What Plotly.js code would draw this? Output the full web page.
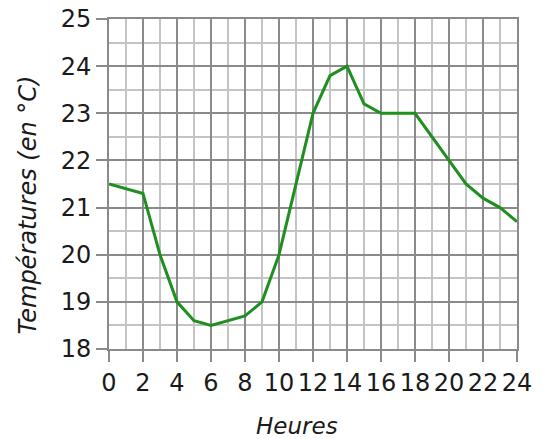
<!DOCTYPE html>
<html>
<head>
<meta charset="utf-8">
<script src="https://cdn.plot.ly/plotly-3.0.1.min.js"></script>
<style>html,body{margin:0;padding:0;background:#fff}</style>
</head>
<body>
<div id="chart" style="width:550px;height:439px"></div>
<script>
const hours = [0, 2, 3, 4, 5, 6, 8, 9, 10, 12, 13, 14, 15, 16, 18, 20, 21, 22, 23, 24];
const temps = [21.5, 21.3, 20.0, 19.0, 18.6, 18.5, 18.7, 19.0, 20.0, 23.0, 23.8, 24.0, 23.2, 23.0, 23.0, 22.0, 21.5, 21.2, 21.0, 20.7];
const xTickVals = [0, 2, 4, 6, 8, 10, 12, 14, 16, 18, 20, 22, 24];
const yTickVals = [18, 19, 20, 21, 22, 23, 24, 25];
const xTitle = 'Heures';
const yTitle = 'Températures (en °C)';

const major = '#8a8a8a';
const minor = '#c4c4c4';
const font = 'DejaVu Sans, sans-serif';
const textColor = '#1a1a1a';

Plotly.newPlot('chart', [{
  x: hours, y: temps, type: 'scatter', mode: 'lines',
  line: {color: '#1f8f1f', width: 3},
  hoverinfo: 'skip'
}], {
  width: 550, height: 439,
  margin: {l: 109, r: 33, t: 19, b: 90},
  paper_bgcolor: '#fff', plot_bgcolor: '#fff',
  showlegend: false,
  xaxis: {
    range: [0, 24], tickvals: xTickVals, ticktext: xTickVals.map(String),
    showgrid: true, gridcolor: major, gridwidth: 2,
    zeroline: false, showline: true, linecolor: major, linewidth: 2, mirror: true,
    ticks: 'outside', ticklen: 11, tickwidth: 2, tickcolor: major,
    tickfont: {family: font, size: 24, color: textColor},
    minor: {dtick: 1, tick0: 0, showgrid: true, gridcolor: minor, gridwidth: 2, ticks: ''},
    fixedrange: true
  },
  yaxis: {
    range: [18, 25], tickvals: yTickVals, ticktext: yTickVals.map(String),
    showgrid: true, gridcolor: major, gridwidth: 2,
    zeroline: false, showline: true, linecolor: major, linewidth: 2, mirror: true,
    ticks: 'outside', ticklen: 11, tickwidth: 2, tickcolor: major,
    tickfont: {family: font, size: 24, color: textColor},
    minor: {dtick: 0.5, tick0: 18, showgrid: true, gridcolor: minor, gridwidth: 2, ticks: ''},
    fixedrange: true
  },
  annotations: [
    {text: xTitle, xref: 'paper', yref: 'paper', x: 0.4596, y: -0.233,
     xanchor: 'center', yanchor: 'middle', showarrow: false,
     font: {family: font, size: 23, color: textColor, style: 'italic'}},
    {text: yTitle, xref: 'paper', yref: 'paper', x: -0.1985, y: 0.435,
     xanchor: 'center', yanchor: 'middle', showarrow: false, textangle: -90,
     font: {family: font, size: 24, color: textColor, style: 'italic'}}
  ]
}, {displayModeBar: false, staticPlot: true});
</script>
</body>
</html>
